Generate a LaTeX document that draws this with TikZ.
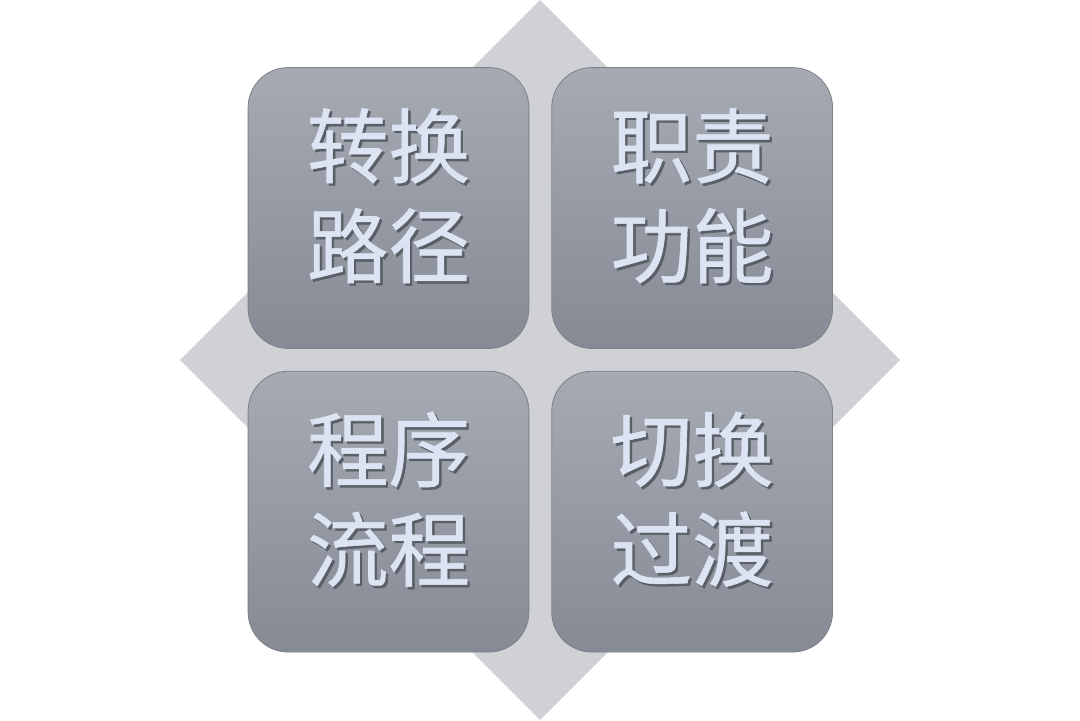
\documentclass[tikz,border=0pt]{standalone}
\usepackage{fontspec}
\newfontfamily\cjk[FakeBold=0.7]{Noto Sans CJK SC}
\usetikzlibrary{positioning}
\definecolor{diamondgray}{HTML}{D0D1D5}
\definecolor{boxtop}{HTML}{A5AAB3}
\definecolor{boxbottom}{HTML}{858A95}
\definecolor{boxline}{HTML}{7E828B}
\definecolor{textlight}{HTML}{DCE4F3}
\definecolor{textshadow}{HTML}{5A5E66}
\newcommand{\twolines}[2]{\begin{tabular}{@{}c@{}}#1\\#2\end{tabular}}
\newcommand{\boxlabel}[2]{\makebox[0pt][l]{\hspace{0.06cm}\raisebox{-0.06cm}{\color{textshadow}\twolines{#1}{#2}}}\twolines{#1}{#2}}
\tikzstyle{tile} = [rectangle, rounded corners=1cm, minimum width=7.02cm, minimum height=7.02cm, inner sep=0pt, draw=boxline, line width=0.6pt, top color=boxtop, bottom color=boxbottom, text=textlight, font=\cjk\fontsize{58}{71}\selectfont]

\begin{document}
\begin{tikzpicture}[node distance=0.55cm]
\useasboundingbox (0,0) rectangle (27,18);

% Diamond behind
\fill [diamondgray] (13.5,18) -- (22.5,9) -- (13.5,0) -- (4.5,9) -- cycle;

% Nodes
\node (route) [tile] at (9.7125,12.8) {\boxlabel{转换}{路径}};
\node (duty) [tile, right=of route] {\boxlabel{职责}{功能}};
\node (flow) [tile, below=of route] {\boxlabel{程序}{流程}};
\node (switch) [tile, right=of flow] {\boxlabel{切换}{过渡}};

\end{tikzpicture}
\end{document}
